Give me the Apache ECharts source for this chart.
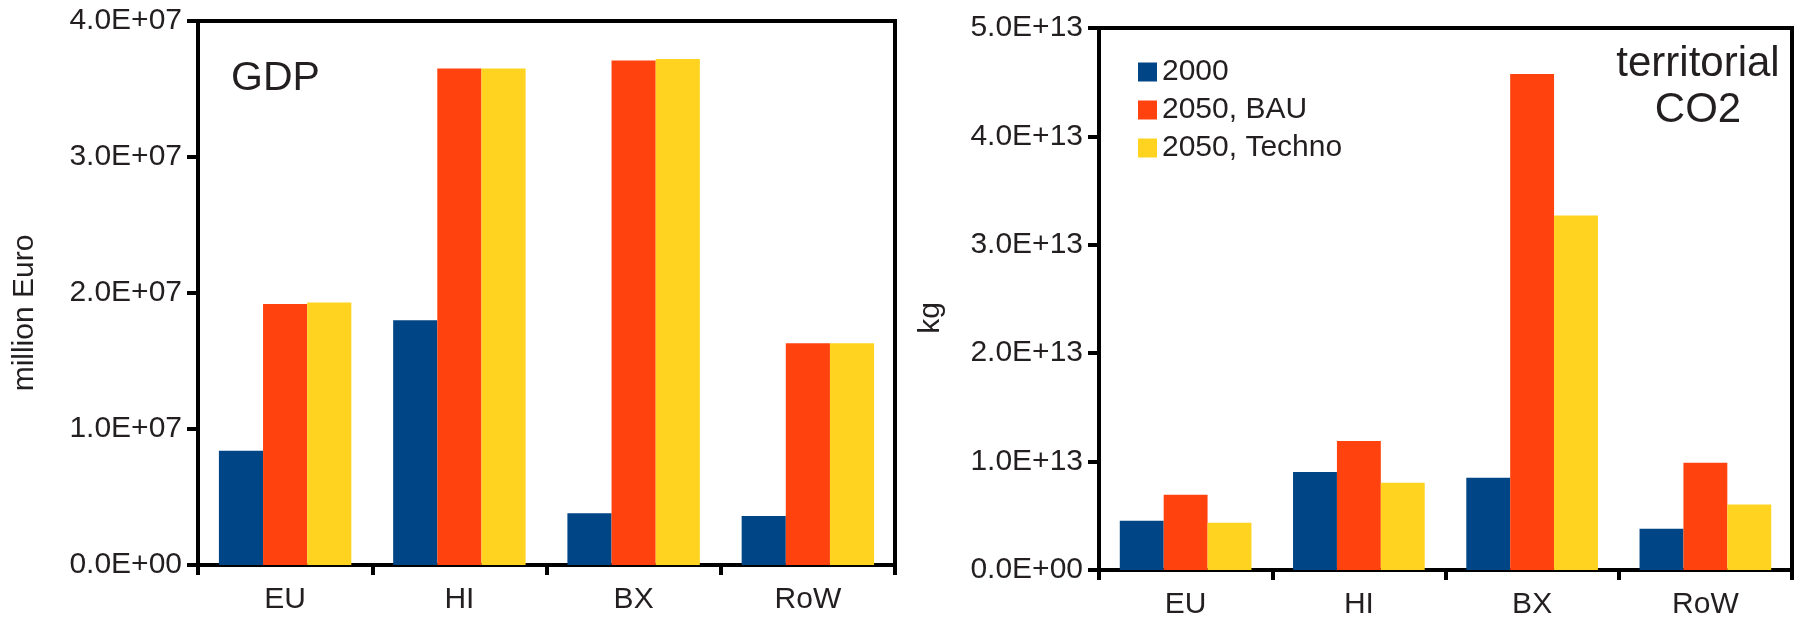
<!DOCTYPE html>
<html>
<head>
<meta charset="utf-8">
<script src="https://cdn.jsdelivr.net/npm/echarts@6/dist/echarts.min.js"></script>
<style>
  html, body { margin: 0; padding: 0; background: #fff; }
  #chart { width: 1800px; height: 620px; }
</style>
</head>
<body>
<div id="chart"></div>
<script>
// Regions shown on both panels
const regions = ['EU', 'HI', 'BX', 'RoW'];
const seriesNames = ['2000', '2050, BAU', '2050, Techno'];

// GDP (million Euro)
const gdp2000 = [8.4e6, 1.80e7, 3.8e6, 3.6e6];
const gdpBAU = [1.92e7, 3.65e7, 3.71e7, 1.63e7];
const gdpTechno = [1.93e7, 3.65e7, 3.72e7, 1.63e7];

// Territorial CO2 (kg)
const co2_2000 = [4.55e12, 9.05e12, 8.5e12, 3.8e12];
const co2BAU = [6.95e12, 1.19e13, 4.575e13, 9.9e12];
const co2Techno = [4.35e12, 8.05e12, 3.27e13, 6.05e12];

// Tick labels
const gdpTicks = ['0.0E+00', '1.0E+07', '2.0E+07', '3.0E+07', '4.0E+07'];
const co2Ticks = ['0.0E+00', '1.0E+13', '2.0E+13', '3.0E+13', '4.0E+13', '5.0E+13'];

const colors = ['#004586', '#FF420E', '#FFD320'];
const FONT = "'Liberation Sans', Arial, sans-serif";
const TXT = '#231f20';

function xAxisFor(gridIndex) {
  return {
    type: 'category',
    gridIndex: gridIndex,
    data: regions,
    axisLine: { lineStyle: { color: '#000', width: 3 } },
    axisTick: { show: true, alignWithLabel: false, inside: false, length: 10, lineStyle: { color: '#000', width: 4 } },
    axisLabel: { color: TXT, fontSize: 30, fontFamily: FONT, margin: 20 },
    splitLine: { show: false }
  };
}

function yAxisFor(gridIndex, max, interval, ticks) {
  return {
    type: 'value',
    gridIndex: gridIndex,
    min: 0,
    max: max,
    interval: interval,
    axisLine: { show: true, lineStyle: { color: '#000', width: 4 } },
    axisTick: { show: true, inside: false, length: 11, lineStyle: { color: '#000', width: 4 } },
    axisLabel: {
      color: TXT, fontSize: 30, fontFamily: FONT, margin: 16,
      formatter: function (v) { return ticks[Math.round(v / interval)]; }
    },
    splitLine: { show: false }
  };
}

function barSeries(name, data, axisIndex, color) {
  return {
    name: name,
    type: 'bar',
    xAxisIndex: axisIndex,
    yAxisIndex: axisIndex,
    data: data,
    barGap: '0%',
    barCategoryGap: '24%',
    itemStyle: { color: color },
    emphasis: { disabled: true },
    animation: false
  };
}

const chart = echarts.init(document.getElementById('chart'), null, { renderer: 'canvas' });

chart.setOption({
  animation: false,
  backgroundColor: '#fff',
  grid: [
    { left: 198, top: 21, width: 697, height: 544, show: true, borderColor: '#000', borderWidth: 4, backgroundColor: 'transparent' },
    { left: 1099, top: 28, width: 693, height: 543, show: true, borderColor: '#000', borderWidth: 4, backgroundColor: 'transparent' }
  ],
  xAxis: [xAxisFor(0), xAxisFor(1)],
  yAxis: [
    yAxisFor(0, 4e7, 1e7, gdpTicks),
    yAxisFor(1, 5e13, 1e13, co2Ticks)
  ],
  legend: {
    data: seriesNames,
    orient: 'vertical',
    left: 1133,
    top: 52,
    icon: 'rect',
    itemWidth: 19,
    itemHeight: 19,
    itemGap: 8,
    textStyle: { color: TXT, fontSize: 30, fontFamily: FONT, lineHeight: 30, padding: [0, 0, 0, 0] },
    selectedMode: false
  },
  series: [
    barSeries(seriesNames[0], gdp2000, 0, colors[0]),
    barSeries(seriesNames[1], gdpBAU, 0, colors[1]),
    barSeries(seriesNames[2], gdpTechno, 0, colors[2]),
    barSeries(seriesNames[0], co2_2000, 1, colors[0]),
    barSeries(seriesNames[1], co2BAU, 1, colors[1]),
    barSeries(seriesNames[2], co2Techno, 1, colors[2])
  ],
  graphic: [
    {
      type: 'text', left: 231, top: 58,
      style: { text: 'GDP', font: "41px " + FONT, fill: TXT }
    },
    {
      type: 'text', x: 1698, y: 87,
      style: { text: 'territorial\nCO2', font: "42px " + FONT, fill: TXT, align: 'center', verticalAlign: 'middle', lineHeight: 46 }
    },
    {
      type: 'text', x: 25, y: 313, rotation: Math.PI / 2,
      style: { text: 'million Euro', font: "30px " + FONT, fill: TXT, align: 'center', verticalAlign: 'middle' }
    },
    {
      type: 'text', x: 931, y: 318, rotation: Math.PI / 2,
      style: { text: 'kg', font: "30px " + FONT, fill: TXT, align: 'center', verticalAlign: 'middle' }
    }
  ]
});
</script>
</body>
</html>
